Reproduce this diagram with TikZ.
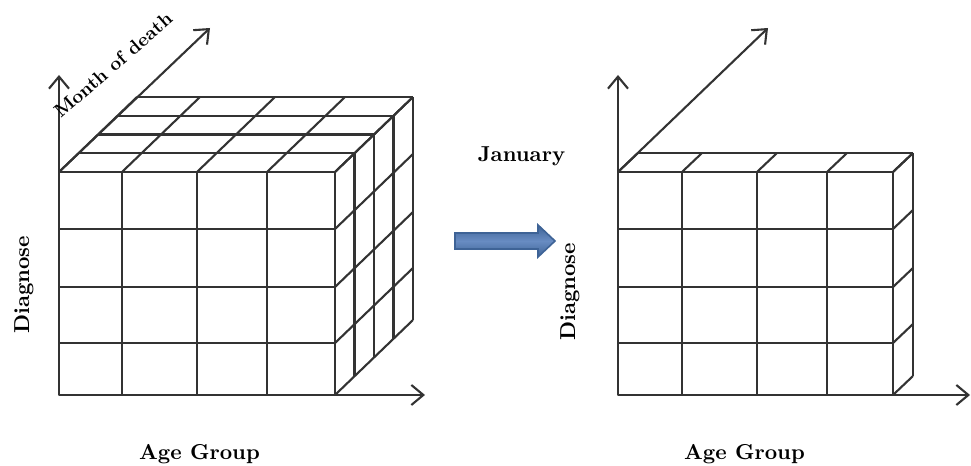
\documentclass[tikz,border=0pt]{standalone}
\usetikzlibrary{arrows.meta}
\definecolor{arrowblue}{RGB}{62,99,150}
\definecolor{arrowlight}{RGB}{104,140,194}

\begin{document}
\begin{tikzpicture}[x=0.5pt, y=0.5pt,
    cell/.style = {draw=black!80, line width=1.05pt, line join=round},
    axisline/.style = {cell, -{Straight Barb[length=6pt, width=10pt]}},
    lbl/.style = {font=\bfseries\fontsize{10.8}{13}\selectfont, inner sep=0pt}]
    \useasboundingbox (0,0) rectangle (971,466);
    \begin{scope}[shift={(59,71)}]
        \draw[cell] (0,0) rectangle (276,223);
        \foreach \x in {63,138,208} \draw[cell] (\x,0) -- (\x,223);
        \foreach \y in {52,108,166} \draw[cell] (0,\y) -- (276,\y);
        \foreach \k in {1,...,4} {
            \draw[cell] (19.5*\k,223+18.75*\k) -- ++(276,0);
            \draw[cell] (276+19.5*\k,18.75*\k) -- ++(0,223);
        }
        \foreach \x in {0,63,138,208,276} \draw[cell] (\x,223) -- ++(78,75);
        \foreach \y in {0,52,108,166,223} \draw[cell] (276,\y) -- ++(78,75);

        \coordinate (o1) at (0,0);
        \coordinate (t1) at (0,223);
        \draw[axisline] (o1) -- ++(0,320);
        \draw[axisline] (t1) -- ++(151,144);
        \draw[axisline] (o1) -- ++(366,0);
    \end{scope}
    \begin{scope}[shift={(618,71)}]
        \draw[cell] (0,0) rectangle (275,223);
        \foreach \x in {64,139,209} \draw[cell] (\x,0) -- (\x,223);
        \foreach \y in {52,108,166} \draw[cell] (0,\y) -- (275,\y);
        \draw[cell] (20,242) -- ++(275,0);
        \draw[cell] (295,19) -- ++(0,223);
        \foreach \x in {0,64,139,209,275} \draw[cell] (\x,223) -- ++(20,19);
        \foreach \y in {0,52,108,166,223} \draw[cell] (275,\y) -- ++(20,19);

        \coordinate (o2) at (0,0);
        \coordinate (t2) at (0,223);
        \draw[axisline] (o2) -- ++(0,320);
        \draw[axisline] (t2) -- ++(150,144);
        \draw[axisline] (o2) -- ++(352,0);
    \end{scope}

    \shade[top color=arrowblue, bottom color=arrowblue, middle color=arrowlight, draw=arrowblue, line width=0.8pt]
        (455,217) -- (538,217) -- (538,209) -- (555,225) -- (538,241) -- (538,233) -- (455,233) -- cycle;

    \node[lbl, rotate=41, font=\bfseries\fontsize{9.5}{11}\selectfont] (month) at (113,401) {Month of death};
    \node[lbl, rotate=90] (diag1) at (24,181) {Diagnose};
    \node[lbl, rotate=90] (diag2) at (570,174) {Diagnose};
    \node[lbl, anchor=base] (age1) at (199.5,6) {Age Group};
    \node[lbl, anchor=base] (age2) at (744.5,6) {Age Group};
    \node[lbl, anchor=base] (jan) at (521.5,304) {January};
\end{tikzpicture}
\end{document}
